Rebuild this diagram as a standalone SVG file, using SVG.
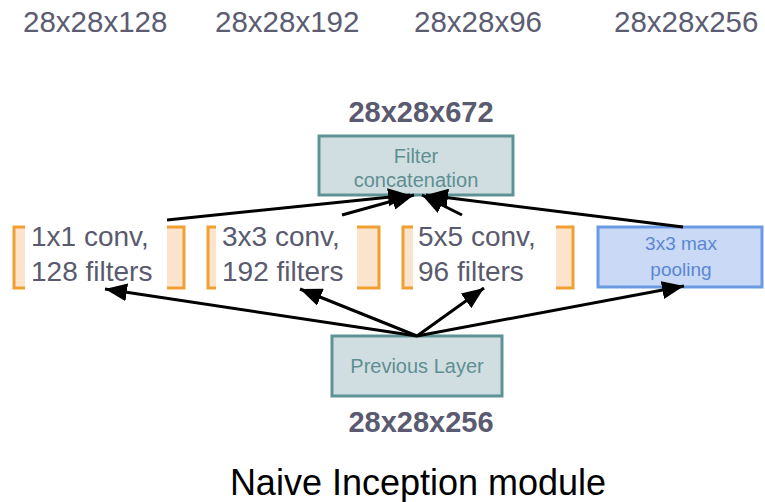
<svg xmlns="http://www.w3.org/2000/svg" width="765" height="502" viewBox="0 0 765 502">
<style>
.dim{font-family:"Liberation Sans",Arial,sans-serif;font-size:29.5px;fill:#5c5c72}
.bold{font-family:"Liberation Sans",Arial,sans-serif;font-size:29px;font-weight:bold;fill:#5a5a70;text-anchor:middle}
.conv{fill:#fce3cb;stroke:#f0a033;stroke-width:3}
.lab{fill:#ffffff}
.convt{font-family:"Liberation Sans",Arial,sans-serif;font-size:28px;fill:#5a5a6e}
.teal{fill:#d0dee2;stroke:#5e9396;stroke-width:3}
.tealt{font-family:"Liberation Sans",Arial,sans-serif;font-size:20px;fill:#5f8e91;text-anchor:middle}
.pool{fill:#c9d9f6;stroke:#6a9be2;stroke-width:3}
.poolt{font-family:"Liberation Sans",Arial,sans-serif;font-size:19px;fill:#5b87d2;text-anchor:middle}
.edge{stroke:#000;stroke-width:3;fill:none;marker-end:url(#ah)}
</style>
<defs>
<marker id="ah" markerUnits="userSpaceOnUse" markerWidth="22" markerHeight="18" refX="22" refY="9" orient="auto">
<path d="M0,0 L22,9 L0,18 z" fill="#000"/>
</marker>
</defs>
<rect width="765" height="502" fill="#ffffff"/>
<g id="top-dims">
<text class="dim" x="23" y="32">28x28x128</text>
<text class="dim" x="215" y="32">28x28x192</text>
<text class="dim" x="414" y="32">28x28x96</text>
<text class="dim" x="614" y="32">28x28x256</text>
</g>
<g id="concat">
<text class="bold" x="421" y="122">28x28x672</text>
<rect class="teal" x="319" y="136" width="194" height="59"/>
<text class="tealt" x="416" y="163">Filter</text>
<text class="tealt" x="416" y="187">concatenation</text>
</g>
<g id="conv1">
<rect class="conv" x="14" y="227" width="170" height="61"/>
<rect class="lab" x="25" y="218" width="142" height="72"/>
<text class="convt" x="31" y="246">1x1 conv,</text>
<text class="convt" x="31" y="281">128 filters</text>
</g>
<g id="conv3">
<rect class="conv" x="208" y="227" width="171" height="61"/>
<rect class="lab" x="216" y="218" width="141" height="72"/>
<text class="convt" x="222" y="246">3x3 conv,</text>
<text class="convt" x="222" y="281">192 filters</text>
</g>
<g id="conv5">
<rect class="conv" x="403" y="227" width="170" height="61"/>
<rect class="lab" x="413" y="218" width="143" height="72"/>
<text class="convt" x="418" y="246">5x5 conv,</text>
<text class="convt" x="418" y="281">96 filters</text>
</g>
<g id="pool">
<rect class="pool" x="598" y="227" width="164" height="60"/>
<text class="poolt" x="681" y="250">3x3 max</text>
<text class="poolt" x="681" y="276">pooling</text>
</g>
<g id="prev">
<rect class="teal" x="332" y="336" width="170" height="60"/>
<text class="tealt" x="417" y="373">Previous Layer</text>
<text class="bold" x="421" y="432">28x28x256</text>
</g>
<g id="connectors">
<line class="edge" x1="167" y1="220" x2="410" y2="195"/>
<line class="edge" x1="342" y1="215" x2="414" y2="195"/>
<line class="edge" x1="462" y1="215" x2="422" y2="195"/>
<line class="edge" x1="683" y1="227" x2="426" y2="195"/>
<line class="edge" x1="417" y1="336" x2="105" y2="289"/>
<line class="edge" x1="417" y1="336" x2="300" y2="289"/>
<line class="edge" x1="417" y1="336" x2="484" y2="288"/>
<line class="edge" x1="417" y1="336" x2="684" y2="286"/>
</g>
<g id="title">
<text x="418" y="495" text-anchor="middle" style="font-family:'Liberation Sans',Arial,sans-serif;font-size:36px;fill:#000">Naive Inception module</text>
</g>
</svg>
